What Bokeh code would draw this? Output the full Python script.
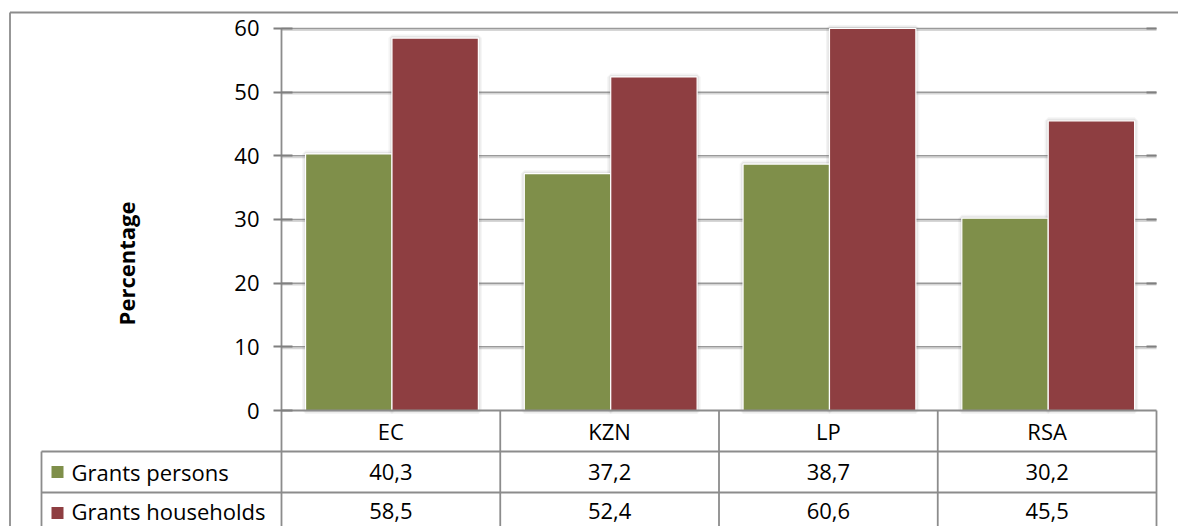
from bokeh.plotting import figure
from bokeh.models import Range1d, LinearAxis, FixedTicker, ColumnDataSource
from bokeh.core.properties import value
from bokeh.embed import file_html
from bokeh.resources import INLINE
import numpy as np

# Share of persons / households receiving grants, by region
regions = ["EC", "KZN", "LP", "RSA"]
grants_persons = [40.3, 37.2, 38.7, 30.2]
grants_households = [58.5, 52.4, 60.6, 45.5]
series_names = ["Grants persons", "Grants households"]
value_labels_persons = ["40,3", "37,2", "38,7", "30,2"]
value_labels_households = ["58,5", "52,4", "60,6", "45,5"]
y_ticks = [0, 10, 20, 30, 40, 50, 60]

# Layout constants (pixels)
W, H = 1178, 526
CAT_PX = 218.75      # width of one category column
Y_PX = 6.3667        # pixels per percentage point
AXIS_PX = 281        # x pixel of the value axis
ZERO_PX = 410        # y pixel of zero
Y_MAX = 60
ROW = 41 / Y_PX      # data-table row height in data units

GREEN = "#7F8F4A"
RED = "#8E3E41"
LINE = "#8C8C8C"
FONT = "Open Sans"
FS = "22px"


def px_x(px):
    return (px - AXIS_PX) / CAT_PX


def px_y(px):
    return (ZERO_PX - px) / Y_PX


n = len(regions)
x0 = np.arange(n)

p = figure(width=W, height=H,
           x_range=Range1d(px_x(0), px_x(W)), y_range=Range1d(px_y(H), px_y(0)),
           output_backend="svg", toolbar_location=None,
           x_axis_type=None, y_axis_type=None, min_border=0)
p.outline_line_color = None
p.background_fill_color = "white"
p.border_fill_color = "white"

# gridlines with a light shadow underneath
gx0 = [0] * (len(y_ticks) - 1)
gx1 = [n] * (len(y_ticks) - 1)
gy = y_ticks[1:]
p.segment(x0=gx0, x1=gx1, y0=[t - 1.6 / Y_PX for t in gy], y1=[t - 1.6 / Y_PX for t in gy],
          line_color="#D6D6D6", line_width=1.6)
p.segment(x0=gx0, x1=gx1, y0=gy, y1=gy, line_color="#9A9A9A", line_width=1.5)

# bars: soft shadow, then the bars themselves (clipped at the axis maximum)
bw = 0.395
gap = 0.11
left_g = x0 + gap
left_r = left_g + bw
top_g = np.minimum(grants_persons, Y_MAX)
top_r = np.minimum(grants_households, Y_MAX)
src = ColumnDataSource(dict(lg=left_g, rg=left_g + bw, tg=top_g,
                            lr=left_r, rr=left_r + bw, tr=top_r))
for lw, a in ((7, 0.07), (4, 0.10)):
    p.quad(left="lg", right="rg", top="tg", bottom=0, source=src,
           fill_color=None, line_color="#606060", line_alpha=a, line_width=lw)
    p.quad(left="lr", right="rr", top="tr", bottom=0, source=src,
           fill_color=None, line_color="#606060", line_alpha=a, line_width=lw)
p.quad(left="lg", right="rg", top="tg", bottom=0, source=src,
       fill_color=GREEN, line_color="white", line_width=1.2)
p.quad(left="lr", right="rr", top="tr", bottom=0, source=src,
       fill_color=RED, line_color="white", line_width=1.2)

# value axis line
p.segment(x0=[0], x1=[0], y0=[Y_MAX], y1=[px_y(H)], line_color=LINE, line_width=1.8)

# data table grid
leg_x = px_x(41)
p.segment(x0=[0, leg_x, leg_x], x1=[n, n, n], y0=[0, -ROW, -2 * ROW], y1=[0, -ROW, -2 * ROW],
          line_color=LINE, line_width=1.8)
p.segment(x0=list(range(1, n + 1)), x1=list(range(1, n + 1)),
          y0=[0] * n, y1=[px_y(H)] * n, line_color=LINE, line_width=1.8)
p.segment(x0=[leg_x], x1=[leg_x], y0=[-ROW], y1=[px_y(H)], line_color=LINE, line_width=1.8)

# chart border
bx, by = px_x(9.5), px_y(12)
p.segment(x0=[bx, bx], x1=[bx, px_x(W)], y0=[by, by], y1=[px_y(H), by],
          line_color=LINE, line_width=1.8)

# table text (last row is cut by the page edge, so its text sits a little higher)
row_y = [-ROW / 2, -1.5 * ROW, px_y(510)]
cx = x0 + 0.5
txt = dict(text_font=value(FONT), text_font_size=FS, text_color="black",
           text_align="center", text_baseline="middle")
p.text(x=cx, y=[row_y[0]] * n, text=regions, **txt)
p.text(x=cx, y=[row_y[1]] * n, text=value_labels_persons, **txt)
p.text(x=cx, y=[row_y[2]] * n, text=value_labels_households, **txt)

# legend keys in the table
p.scatter(x=[px_x(57)] * 2, y=[-1.5 * ROW, -2.5 * ROW], marker="square", size=12,
          fill_color=[GREEN, RED], line_color=None)
p.text(x=[px_x(71)] * 2, y=row_y[1:], text=series_names,
       text_font=value(FONT), text_font_size=FS, text_color="black",
       text_align="left", text_baseline="middle")

# value axis (drawn at x=0 inside the frame)
yaxis = LinearAxis(fixed_location=0, ticker=FixedTicker(ticks=y_ticks),
                   axis_line_color=None, major_tick_line_color="#7F7F7F",
                   major_tick_line_width=2, major_tick_in=11, major_tick_out=8,
                   minor_tick_line_color=None, major_label_standoff=14,
                   major_label_text_font=FONT, major_label_text_font_size=FS,
                   major_label_text_color="black",
                   axis_label="Percentage", axis_label_standoff=90,
                   axis_label_text_font=FONT, axis_label_text_font_size="22px",
                   axis_label_text_font_style="bold", axis_label_text_color="black")
p.add_layout(yaxis, "left")

# short tick marks on the right edge of the plot area
raxis = LinearAxis(fixed_location=n, ticker=FixedTicker(ticks=y_ticks[1:]),
                   axis_line_color=None, major_tick_line_color="#7F7F7F",
                   major_tick_line_width=2, major_tick_in=0, major_tick_out=10,
                   minor_tick_line_color=None, major_label_text_color=None)
p.add_layout(raxis, "left")

open("out.html", "w").write(file_html(p, INLINE))
